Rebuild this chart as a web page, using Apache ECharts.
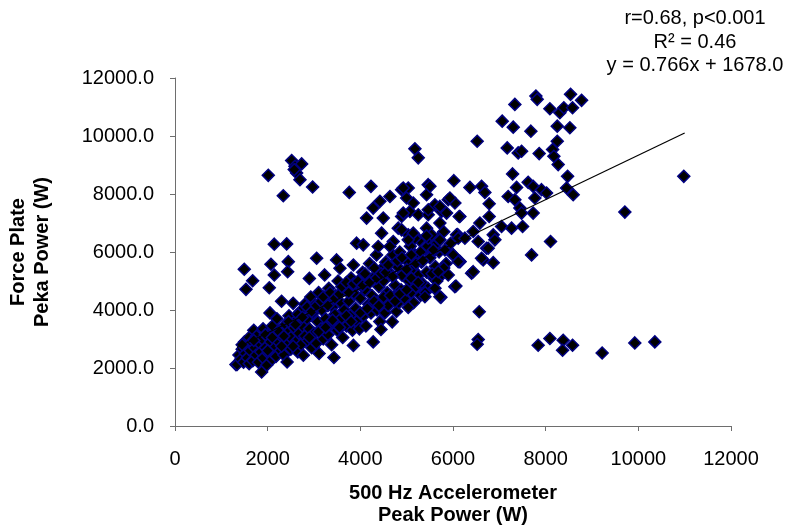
<!DOCTYPE html>
<html>
<head>
<meta charset="utf-8">
<script src="https://cdn.jsdelivr.net/npm/echarts@6/dist/echarts.min.js"></script>
<style>
html,body{margin:0;padding:0;background:#fff;}
#chart{width:794px;height:532px;}
</style>
</head>
<body>
<div id="chart"></div>
<script>
// ---- Data ----
const xTicks = [0, 2000, 4000, 6000, 8000, 10000, 12000];
const yTicks = [0, 2000, 4000, 6000, 8000, 10000, 12000];

const outlierPoints = [
  [2013,8644],[2337,7941],[2518,9152],[2589,8955],[2733,9038],[2625,8727],[2697,8495],[2574,8841],
  [2970,8242],[3761,8055],[4229,8263],[5178,9557],[5250,9246],[6019,8460],[2143,6270],[2410,6280],
  [1495,5405],[1676,5010],[1532,4713],[2071,5578],[2445,5668],[2143,5208],[2431,5322],[2035,4768],
  [3057,5785],[3488,5727],[3920,6304],[4063,6246],[4386,6188],[4638,6188]
];

const upperRightPoints = [
  [7335,11090],[7789,11377],[7817,11263],[8091,10939],[8306,10803],[8392,10976],[8537,11436],[8580,10976],
  [8775,11229],[7062,10512],[7300,10305],[7681,10167],[8250,10340],[8522,10284],[6522,9820],[7170,9590],
  [7407,9418],[7480,9474],[7860,9394],[8250,9820],[8149,9533],[8177,9301],[8270,9014],[7286,8692],
  [8473,8609],[6365,8228],[6616,8263],[6688,8055],[7372,8228],[7622,8401],[7730,8263],[7911,8149],
  [8019,8033],[8451,8207],[8594,7976],[9709,7377],[10981,8609],[7191,7914],[7335,7803],[7443,7515],
  [7767,7861],[6781,7664],[6781,7225],[6134,7225],[7480,7342],[7730,7342],[6580,6997],[7048,6879],
  [7264,6823],[7502,6879],[6436,6707],[6868,6592],[6904,6419],[8105,6361],[7696,5900],[6113,6477],
  [6257,6477],[6544,6361],[6760,6131],[6616,5785],[6868,5633],[6436,5322],[6113,5668]
];

const lowerRightPoints = [
  [6566,3938],[6544,2983],[6522,2820],[7838,2785],[8091,3017],[8378,2958],[8365,2612],[8580,2785],
  [9219,2519],[9924,2865],[10356,2900]
];

const middlePoints = [
  [5034,4090],[5739,4436],[6063,4827],[4278,2900],[4445,3329],[4688,3592],
  [6401,5266],[6652,5727],[6725,6131],[6149,5668],[5897,5208],[5681,5322],[5609,4747],[5394,4457],[5717,4457],
  [5465,8322],[4891,8149],[5034,8207],[4999,7861],[5897,7803],[6041,7689],[5609,7630],[5753,7398],
  [5717,6997],[6149,7225],[5070,7398],[5250,7284],[4891,7225],[4818,6823],[5034,6592],[5465,7284],
  [5430,6823],[5681,6477],[5465,6477],[5178,6477],
  [4135,7170],[4495,7170],[4459,6650],[4710,6360],[4926,8207],[5142,7689],[5430,7976],[5502,8263],
  [4278,7515],[4423,7747],[4639,7914],[4926,7342],[5466,7457],[5717,7572],[5933,7861],[5861,7342],
  [5538,6592],[5717,6419],[6077,6592],[4891,6765],[5142,6650],[5034,6419],[5430,6557],[5573,6073],
  [5825,6073],[6004,5900]
];

const densePoints = [
  [1316,2118],[1340,2120],[1380,2450],[1420,2300],[1450,2650],[1480,2200],[1500,2900],[1520,2500],[1550,2750],
  [1560,2350],[1600,2150],[1600,3050],[1620,2600],
  [1650,2900],[1680,2250],[1700,3300],[1720,2700],[1750,2450],[1760,3100],[1800,2200],[1820,2850],
  [1850,2550],[1870,1862],[1880,3000],[1900,2350],[1900,3350],
  [1950,2700],[1980,2100],[2000,3150],[2020,2500],[2050,3900],[2060,2900],[2100,2300],[2100,3450],
  [2150,2700],[2150,3100],[2180,2400],[2200,3700],[2200,2950],
  [2250,3300],[2280,2600],[2300,4300],[2320,3050],[2350,2450],[2380,3500],[2400,2800],[2420,2210],
  [2450,3250],[2460,3800],[2500,2650],[2500,3050],
  [2550,4230],[2560,3400],[2600,2900],[2620,3650],[2650,2550],[2680,3200],[2700,3950],[2720,2800],
  [2750,3450],[2770,2440],[2800,3100],[2800,4200],
  [2850,3700],[2870,2950],[2900,5090],[2900,3350],[2930,4450],[2950,2700],[2980,3900],[3000,3200],
  [3020,4200],[3050,2850],[3080,3600],[3100,4600],[3110,2500],
  [3150,3350],[3170,4000],[3200,3000],[3230,5210],[3250,3700],[3280,4300],[3300,3150],[3320,4750],
  [3350,3500],[3380,2800],[3400,4100],[3430,2360],
  [3450,3850],[3470,4500],[3500,3300],[3520,5000],[3550,3650],[3560,5440],[3580,4250],[3620,3050],
  [3650,4000],[3680,4700],[3700,3450],
  [3750,4300],[3780,3800],[3800,5100],[3830,3300],[3850,5550],[3850,2780],[3880,4550],[3900,4050],
  [3920,3600],[3950,4900],[3980,3350],[4000,4400],
  [4050,5300],[4070,3800],[4100,4700],[4120,3450],[4150,5050],[4180,4200],[4200,5600],[4230,3900],
  [4250,4500],[4300,5150],
  [4350,5900],[4360,4000],[4400,4800],[4420,3600],[4450,5400],[4480,4300],[4500,5000],[4530,3900],
  [4550,5650],[4580,4600],[4600,4150],
  [4650,5250],[4700,5900],[4720,4450],[4750,4850],[4780,3950],[4800,5500],[4830,4250],[4850,6000],
  [4880,4700],[4900,5200],
  [4950,4400],[5000,5700],[5050,5000],[5080,6200],[5100,4600],[5130,5400],[5150,4250],[5180,5900],
  [5200,4800],
  [5250,5200],[5280,6400],[5300,4500],[5320,5650],[5350,4900],[5400,6100],[5430,5300],[5460,4750],
  [5500,5800],
  [5550,6500],[5580,5100],[5600,4750],[5620,5500],[5700,6000],[5750,5200],[5800,6700],
  [5850,5600],[5950,6300],[6040,4800],[6000,5900],[6100,6600],[6150,5670],
  [1450,2800],[1700,2950],[1950,3150],[2100,3050],[2250,3250],[2350,3100],[2450,3600],[2600,3500],
  [2650,3850],[2750,3750],[2850,4100],[2950,3950],[3050,4150],[3150,4300],[3200,4450],[3300,4150],
  [3350,4600],[3450,4400],[3550,4550],[3600,4800],[3700,4950],[3750,4600],[3850,4900],[3950,5000],
  [4050,4850],[4100,5250],[4200,4950],[4300,5450],[4350,5100],[4450,5250],[4550,5300],[4600,5550],
  [4700,5150],[4800,5700],[4900,5800],[5000,5400],[5100,5900],[5200,5600],[5300,6000],[5350,5700],
  [5450,6200],[5600,6050],[5650,6300],
  [2000,2600],[2300,2750],[2550,2750],[2900,3050],[3100,3250],[3250,3400],[3400,3650],[3550,3400],
  [3700,3800],[3800,3600],[4000,3900],[4150,4050],[4300,4300],[4400,4150],[4500,4450],[4650,4500],
  [4750,4300],[4850,4550],[5000,4700],[5100,5100],[5250,4950],[5400,4600],[5550,5250],[5650,5000],
  [5800,5450]
];

// Linear trend line shown on the chart: y = 0.766x + 1678.0
const trendSlope = 0.766;
const trendIntercept = 1678.0;
const trendXRange = [1340, 11000];

const annotationLines = ['r=0.68, p<0.001', 'R\u00b2 = 0.46', 'y = 0.766x + 1678.0'];
const xTitleLines = ['500 Hz Accelerometer', 'Peak Power (W)'];
const yTitleLines = ['Force Plate', 'Peka Power (W)'];

// ---- Chart ----
const allPoints = [].concat(densePoints, middlePoints, outlierPoints, upperRightPoints, lowerRightPoints);
const trendData = trendXRange.map(x => [x, trendSlope * x + trendIntercept]);

const FONT = '"Liberation Sans", Arial, sans-serif';
const chart = echarts.init(document.getElementById('chart'), null, {renderer: 'canvas'});

const axisCommon = {
  type: 'value',
  min: 0,
  max: 12000,
  interval: 2000,
  splitLine: {show: false},
  axisLine: {show: true, onZero: false, lineStyle: {color: '#6e6e6e', width: 1}},
  axisTick: {show: true, inside: false, length: 5, lineStyle: {color: '#6e6e6e', width: 1}},
  axisLabel: {color: '#000', fontFamily: FONT, fontSize: 20}
};

chart.setOption({
  animation: false,
  backgroundColor: '#fff',
  grid: {left: 175, right: 63, top: 78, bottom: 106, containLabel: false},
  xAxis: Object.assign({}, axisCommon, {
    axisLabel: Object.assign({}, axisCommon.axisLabel, {margin: 23, formatter: v => String(v)})
  }),
  yAxis: Object.assign({}, axisCommon, {
    axisLabel: Object.assign({}, axisCommon.axisLabel, {margin: 21, formatter: v => v.toFixed(1)})
  }),
  series: [
    {
      type: 'scatter',
      data: allPoints,
      symbol: 'diamond',
      symbolSize: 12,
      itemStyle: {color: '#000000', borderColor: '#000080', borderWidth: 1.5, opacity: 1},
      z: 2
    },
    {
      type: 'line',
      data: trendData,
      symbol: 'none',
      lineStyle: {color: '#000', width: 1.2},
      z: 3
    }
  ],
  graphic: [
    {
      type: 'text', x: 695, y: 42,
      style: {text: annotationLines.join('\n'), font: '20px ' + FONT, fill: '#000',
              align: 'center', verticalAlign: 'middle', lineHeight: 23.5}
    },
    {
      type: 'text', x: 453, y: 504,
      style: {text: xTitleLines.join('\n'), font: 'bold 20px ' + FONT, fill: '#000',
              align: 'center', verticalAlign: 'middle', lineHeight: 22}
    },
    {
      type: 'text', x: 30, y: 252, rotation: Math.PI / 2,
      style: {text: yTitleLines.join('\n'), font: 'bold 20px ' + FONT, fill: '#000',
              align: 'center', verticalAlign: 'middle', lineHeight: 24}
    }
  ]
});
</script>
</body>
</html>
